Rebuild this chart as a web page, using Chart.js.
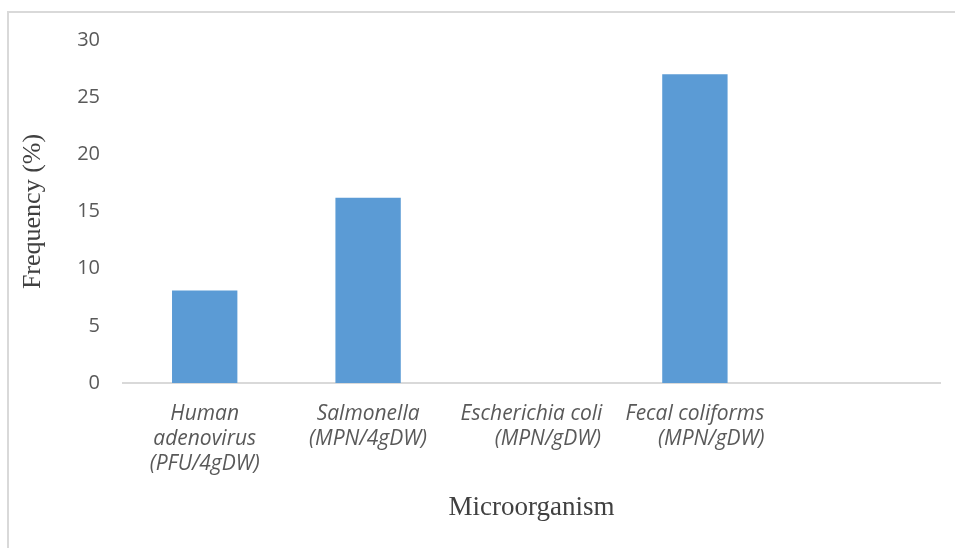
<!DOCTYPE html>
<html>
<head>
<meta charset="utf-8">
<title>Frequency by microorganism</title>
<script src="https://cdn.jsdelivr.net/npm/chart.js@4.4.1/dist/chart.umd.min.js"></script>
<style>
  html, body { margin: 0; padding: 0; background: #ffffff; }
  #wrap { width: 955px; height: 548px; }
</style>
</head>
<body>
<div id="wrap"><canvas id="chart" width="955" height="548"></canvas></div>
<script>
// Category labels (multi-line), one empty slot at the end of the axis
const categories = [
  ['Human', 'adenovirus', '(PFU/4gDW)'],
  ['Salmonella', '(MPN/4gDW)'],
  ['Escherichia coli', '      (MPN/gDW)'],
  ['Fecal coliforms', '      (MPN/gDW)'],
  ''
];

// Frequency (%) per microorganism
const frequency = [8.1, 16.2, 0, 27.0, null];

// Y axis range and step
const yMin = 0;
const yMax = 30;
const yStep = 5;

const AXIS_GREY = '#D9D9D9';
const TICK_TEXT = '#595959';
const TITLE_TEXT = '#404040';

// Light frame around the chart area (top and left edges)
const framePlugin = {
  id: 'frame',
  beforeDraw(chart) {
    const ctx = chart.ctx;
    ctx.save();
    ctx.fillStyle = '#ffffff';
    ctx.fillRect(0, 0, chart.width, chart.height);
    ctx.fillStyle = AXIS_GREY;
    ctx.fillRect(7, 11, chart.width - 7, 2);
    ctx.fillRect(7, 11, 2, chart.height - 11);
    ctx.restore();
  }
};

new Chart(document.getElementById('chart'), {
  type: 'bar',
  data: {
    labels: categories,
    datasets: [{
      label: 'Frequency (%)',
      data: frequency,
      backgroundColor: '#5B9BD5',
      borderWidth: 0,
      barPercentage: 0.4,
      categoryPercentage: 1.0
    }]
  },
  options: {
    responsive: false,
    animation: false,
    layout: { padding: { left: 0, top: 40, right: 15, bottom: 24 } },
    plugins: {
      legend: { display: false },
      tooltip: { enabled: false }
    },
    scales: {
      x: {
        grid: { display: false, drawTicks: false },
        border: { display: true, color: AXIS_GREY, width: 2 },
        ticks: {
          color: TICK_TEXT,
          font: { family: '"Open Sans", sans-serif', size: 21, style: 'italic', lineHeight: 1.2 },
          padding: 18,
          maxRotation: 0,
          minRotation: 0,
          autoSkip: false
        },
        title: {
          display: true,
          text: 'Microorganism',
          color: TITLE_TEXT,
          font: { family: '"Liberation Serif", "Times New Roman", serif', size: 27, lineHeight: 1.2 },
          padding: { top: 0, bottom: 0 }
        },
        afterFit(scale) { scale.height = 141; }
      },
      y: {
        min: yMin,
        max: yMax,
        grid: { display: false, drawTicks: false },
        border: { display: false },
        ticks: {
          stepSize: yStep,
          color: TICK_TEXT,
          font: { family: '"Open Sans", sans-serif', size: 20 },
          padding: 23
        },
        title: {
          display: true,
          text: 'Frequency (%)',
          color: TITLE_TEXT,
          font: { family: '"Liberation Serif", "Times New Roman", serif', size: 26, lineHeight: 1.2 },
          padding: { top: 18, bottom: 0 }
        },
        afterFit(scale) { scale.width = 123; }
      }
    }
  },
  plugins: [framePlugin]
});
</script>
</body>
</html>
